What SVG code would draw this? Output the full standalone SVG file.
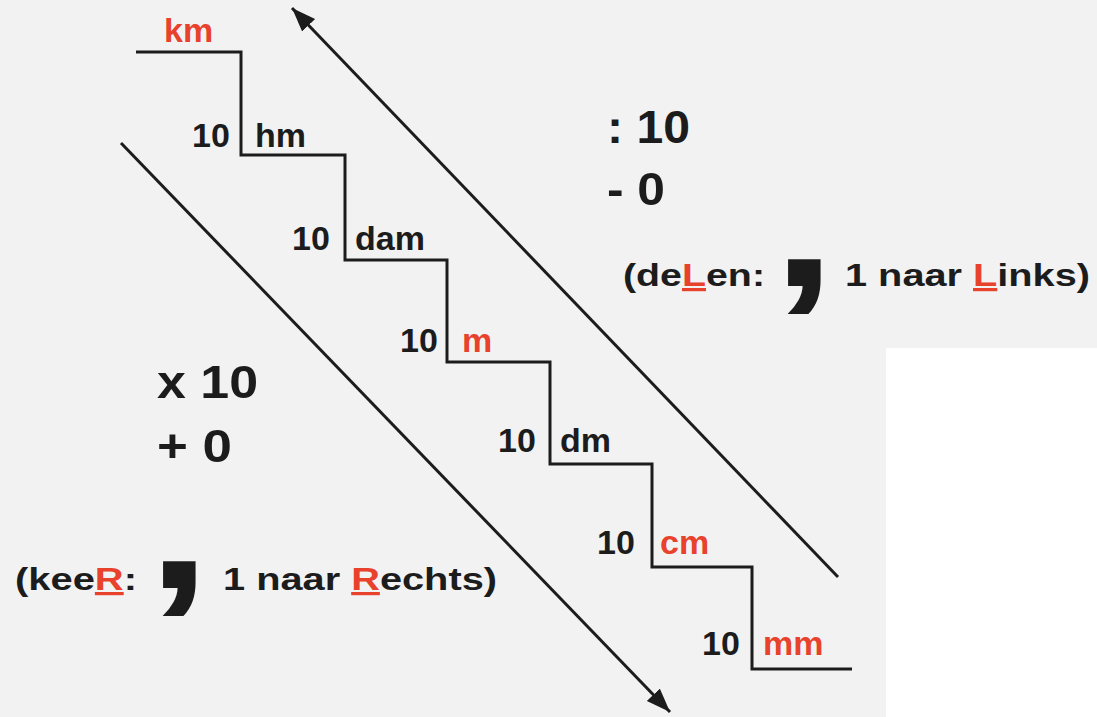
<svg xmlns="http://www.w3.org/2000/svg" width="1097" height="717" viewBox="0 0 1097 717">
<defs>
<style>
text{font-family:"Liberation Sans",Arial,sans-serif;font-weight:bold;fill:#1c1c1c}
.lbl{font-size:34px}
.big{font-size:47px}
.note{font-size:32px}
.comma{font-size:180px}
.red{fill:#e8412c}
.u{text-decoration:underline}
.line{fill:none;stroke:#1c1c1c;stroke-width:3}
</style>
<marker id="ah" markerUnits="userSpaceOnUse" markerWidth="26" markerHeight="20" refX="24" refY="10" orient="auto">
<path d="M0,1 L24,10 L0,19 Z" fill="#1c1c1c"/>
</marker>
</defs>
<rect width="1097" height="717" fill="#f2f2f3"/>
<rect x="886" y="348" width="211" height="369" fill="#ffffff"/>
<g id="stairs">
<path class="line" d="M136,52 H241 V155 H345 V260 H447 V362 H550 V464 H652 V567 H752 V669 H852"/>
</g>
<g id="step-km"><text class="lbl red" x="164" y="42">km</text></g>
<g id="step-hm"><text class="lbl" x="192" y="147">10</text><text class="lbl" x="255" y="147">hm</text></g>
<g id="step-dam"><text class="lbl" x="292" y="250">10</text><text class="lbl" x="355" y="250">dam</text></g>
<g id="step-m"><text class="lbl" x="400" y="352">10</text><text class="lbl red" x="462" y="352">m</text></g>
<g id="step-dm"><text class="lbl" x="498" y="452">10</text><text class="lbl" x="560" y="452">dm</text></g>
<g id="step-cm"><text class="lbl" x="597" y="554">10</text><text class="lbl red" x="660" y="554">cm</text></g>
<g id="step-mm"><text class="lbl" x="702" y="655">10</text><text class="lbl red" x="763" y="655">mm</text></g>
<g id="connectors">
<line class="line" x1="838" y1="577" x2="292" y2="8" marker-end="url(#ah)"/>
<line class="line" x1="121" y1="143" x2="670" y2="712" marker-end="url(#ah)"/>
</g>
<g id="divide">
<text class="big" x="607" y="143" textLength="83" lengthAdjust="spacingAndGlyphs">: 10</text>
<text class="big" x="607" y="205" textLength="58" lengthAdjust="spacingAndGlyphs">- 0</text>
<text class="note" x="623" y="286" textLength="142" lengthAdjust="spacingAndGlyphs">(de<tspan class="red u">L</tspan>en:</text>
<text class="comma" x="772" y="286" textLength="64" lengthAdjust="spacingAndGlyphs">,</text>
<text class="note" x="845" y="286" textLength="245" lengthAdjust="spacingAndGlyphs">1 naar <tspan class="red u">L</tspan>inks)</text>
</g>
<g id="multiply">
<text class="big" x="157" y="398" textLength="101" lengthAdjust="spacingAndGlyphs">x 10</text>
<text class="big" x="157" y="462" textLength="75" lengthAdjust="spacingAndGlyphs">+ 0</text>
<text class="note" x="15" y="590" textLength="122" lengthAdjust="spacingAndGlyphs">(kee<tspan class="red u">R</tspan>:</text>
<text class="comma" x="147" y="588" textLength="64" lengthAdjust="spacingAndGlyphs">,</text>
<text class="note" x="223" y="590" textLength="274" lengthAdjust="spacingAndGlyphs">1 naar <tspan class="red u">R</tspan>echts)</text>
</g>
</svg>
